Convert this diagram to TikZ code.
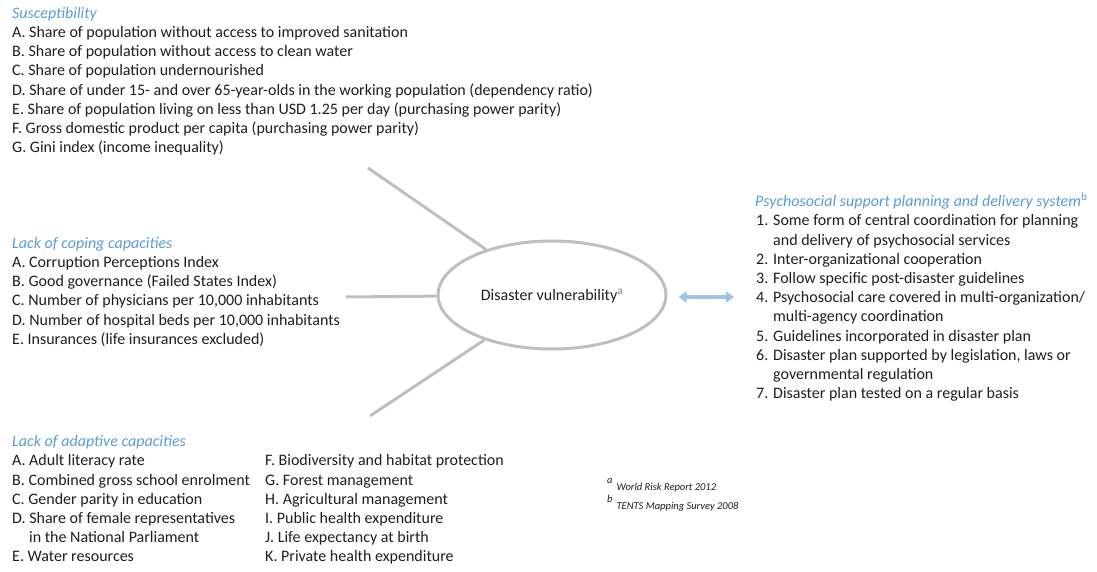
\documentclass[tikz,border=0pt]{standalone}
\usepackage{fontspec}
\setmainfont{Carlito}
\usetikzlibrary{shapes.geometric,arrows.meta}
\definecolor{headblue}{RGB}{91,155,213}
\definecolor{spokegray}{RGB}{191,191,191}
\definecolor{arrowblue}{RGB}{157,195,230}
\definecolor{txtgray}{RGB}{30,30,30}
\tikzset{
  item/.style={anchor=base west, inner sep=0pt, text=txtgray, font=\fontsize{16}{19.2}\selectfont},
  head/.style={item, text=headblue, font=\fontsize{16}{19.2}\selectfont\itshape},
  spoke/.style={spokegray, line width=3pt},
  biarrow/.style={arrowblue, line width=4pt, {Triangle[length=8pt,width=11pt]}-{Triangle[length=8pt,width=11pt]}},
  note/.style={anchor=base west, inner sep=0pt, text=txtgray, font=\fontsize{10.5}{12}\selectfont\itshape},
}

\begin{document}
\begin{tikzpicture}[x=1pt, y=-1pt]
    \useasboundingbox (0, 0) rectangle (1097, 571);

    % susceptibility
    \node [head] (sushead) at (12, 18.3) {Susceptibility};
    \foreach \txt [count=\i] in {
        {A. Share of population without access to improved sanitation},
        {B. Share of population without access to clean water},
        {C. Share of population undernourished},
        {D. Share of under 15- and over 65-year-olds in the working population (dependency ratio)},
        {E. Share of population living on less than USD 1.25 per day (purchasing power parity)},
        {F. Gross domestic product per capita (purchasing power parity)},
        {G. Gini index (income inequality)}}
      \node [item] (sus-\i) at (12, 18.3 + \i*19.2) {\txt};

    % coping capacities
    \node [head] (cophead) at (12, 248.3) {Lack of coping capacities};
    \foreach \txt [count=\i] in {
        {A. Corruption Perceptions Index},
        {B. Good governance (Failed States Index)},
        {C. Number of physicians per 10,000 inhabitants},
        {D. Number of hospital beds per 10,000 inhabitants},
        {E. Insurances (life insurances excluded)}}
      \node [item] (cop-\i) at (12, 248.3 + \i*19.2) {\txt};

    % adaptive capacities
    \node [head] (adahead) at (12, 446.7) {Lack of adaptive capacities};
    \foreach \xx/\txt [count=\i] in {
        12/{A. Adult literacy rate},
        12/{B. Combined gross school enrolment},
        12/{C. Gender parity in education},
        12/{D. Share of female representatives},
        29/{in the National Parliament},
        12/{E. Water resources}}
      \node [item] (adaa-\i) at (\xx, 446.7 + \i*19.2) {\txt};
    \foreach \txt [count=\i] in {
        {F. Biodiversity and habitat protection},
        {G. Forest management},
        {H. Agricultural management},
        {I. Public health expenditure},
        {J. Life expectancy at birth},
        {K. Private health expenditure}}
      \node [item] (adab-\i) at (265, 446.7 + \i*19.2) {\txt};

    % psychosocial support
    \node [head] (psyhead) at (755, 206.7) {Psychosocial support planning and delivery system\textsuperscript{\upshape b}};
    \foreach \xx/\txt [count=\i] in {
        756/{1. Some form of central coordination for planning},
        773/{and delivery of psychosocial services},
        756/{2. Inter-organizational cooperation},
        756/{3. Follow specific post-disaster guidelines},
        756/{4. Psychosocial care covered in multi-organization/},
        773/{multi-agency coordination},
        756/{5. Guidelines incorporated in disaster plan},
        756/{6. Disaster plan supported by legislation, laws or},
        773/{governmental regulation},
        756/{7. Disaster plan tested on a regular basis}}
      \node [item] (psy-\i) at (\xx, 206.7 + \i*19.2) {\txt};

    % centre
    \node [ellipse, draw=spokegray, line width=3pt, minimum width=228pt, minimum height=108pt,
      inner sep=0pt, text depth=0pt, text=txtgray, font=\fontsize{16}{19.2}\selectfont] (dv) at (552, 295)
      {Disaster vulnerability\textsuperscript{\color{gray}a}};

    \coordinate (s1) at (368, 168);
    \coordinate (s2) at (346, 297);
    \coordinate (s3) at (370, 416);
    \draw [spoke] (s1) -- (dv);
    \draw [spoke] (s2) -- (dv);
    \draw [spoke] (s3) -- (dv);

    \draw [biarrow, shorten <=11pt, shorten >=22pt] ([yshift=-2pt]dv.east) -- ([yshift=-2pt]dv.east -| psy-5.west);

    % notes
    \node [note] (fna) at (607, 490) {\raisebox{7pt}{a}\hspace{4pt}World Risk Report 2012};
    \node [note] (fnb) at (607, 509) {\raisebox{7pt}{b}\hspace{4pt}TENTS Mapping Survey 2008};
\end{tikzpicture}
\end{document}
